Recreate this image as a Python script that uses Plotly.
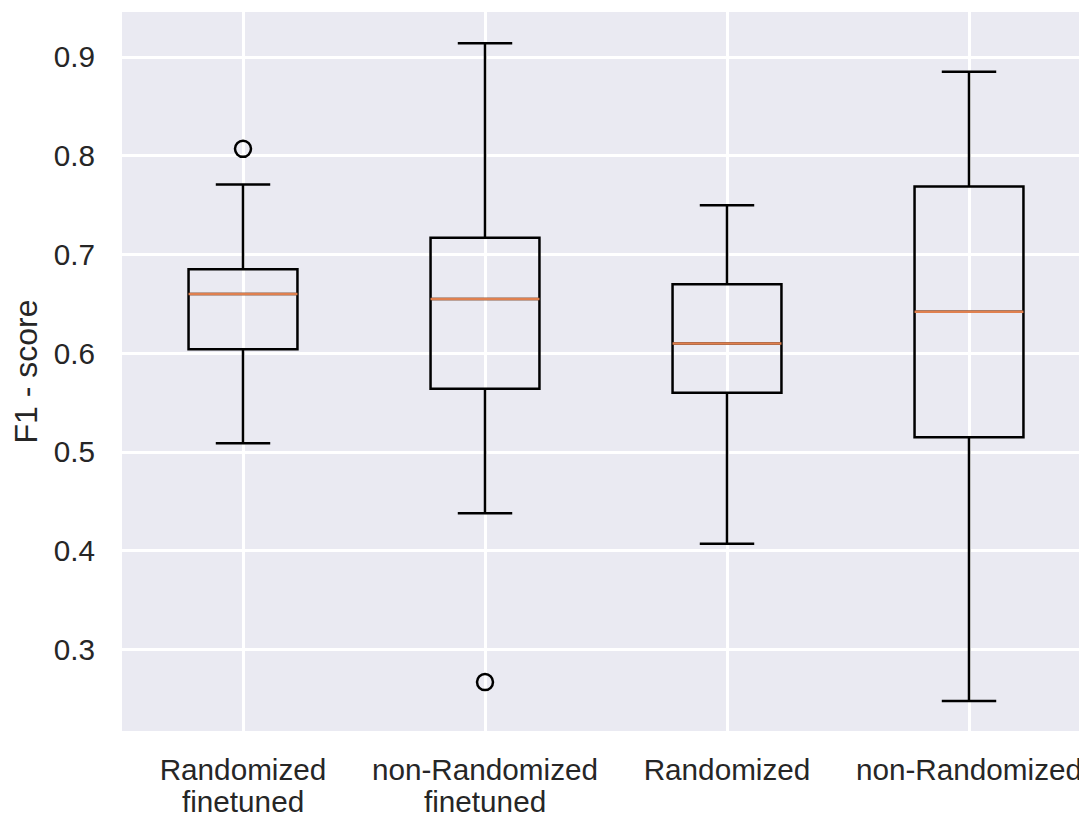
import plotly.graph_objects as go

categories = ["Randomized<br>finetuned", "non-Randomized<br>finetuned", "Randomized", "non-Randomized"]
positions = [1, 2, 3, 4]
lower_whisker = [0.509, 0.438, 0.407, 0.248]
q1 = [0.604, 0.564, 0.560, 0.515]
median = [0.660, 0.655, 0.610, 0.642]
q3 = [0.685, 0.717, 0.670, 0.769]
upper_whisker = [0.771, 0.914, 0.750, 0.885]
outlier_pos = [1, 2]
outlier_val = [0.807, 0.267]

BOX_W = 0.45
TEXT = "#262626"
FONT = "Liberation Sans, Arial, sans-serif"
TSIZE = 29.7

line1 = [c.split("<br>")[0] for c in categories]
line2 = [c.split("<br>")[1] if "<br>" in c else "" for c in categories]

fig = go.Figure()
for i in range(len(positions)):
    fig.add_trace(go.Box(
        x=[positions[i]], q1=[q1[i]], median=[median[i]], q3=[q3[i]],
        lowerfence=[lower_whisker[i]], upperfence=[upper_whisker[i]],
        width=BOX_W, whiskerwidth=0.5, boxpoints=False,
        line=dict(color="black", width=2.5), fillcolor="rgba(0,0,0,0)",
        showlegend=False, hoverinfo="skip",
    ))

mx, my = [], []
for p, m in zip(positions, median):
    mx += [p - BOX_W / 2, p + BOX_W / 2, None]
    my += [m, m, None]
fig.add_trace(go.Scatter(x=mx, y=my, mode="lines",
                         line=dict(color="#E0804F", width=2.5),
                         showlegend=False, hoverinfo="skip"))

fig.add_trace(go.Scatter(x=outlier_pos, y=outlier_val, mode="markers",
                         marker=dict(symbol="circle-open", size=16, color="black",
                                     line=dict(width=2.5, color="black")),
                         showlegend=False, hoverinfo="skip"))

annotations = []
for p, t in zip(positions, line2):
    if t:
        annotations.append(dict(x=p, xref="x", y=0, yref="paper", text=t,
                                showarrow=False, yanchor="middle", yshift=-70,
                                font=dict(size=TSIZE, color=TEXT)))

fig.update_layout(
    width=1079, height=811,
    margin=dict(l=114, r=0, t=4, b=88),
    paper_bgcolor="white", plot_bgcolor="#EAEAF2",
    font=dict(family=FONT, color=TEXT, size=TSIZE),
    annotations=annotations,
    xaxis=dict(range=[0.5, 4.4876], tickmode="array", tickvals=positions,
               ticktext=line1, showgrid=True, gridcolor="white", gridwidth=2.5,
               zeroline=False, showline=False, ticks="outside", ticklen=12,
               automargin=False,
               tickcolor="rgba(0,0,0,0)", tickfont=dict(size=TSIZE, color=TEXT)),
    yaxis=dict(range=[0.2175, 0.9456], tickmode="linear", tick0=0.3, dtick=0.1,
               tickformat=".1f", showgrid=True, gridcolor="white", gridwidth=2.5,
               zeroline=False, showline=False, ticks="outside", ticklen=20,
               automargin=False,
               tickcolor="rgba(0,0,0,0)", tickfont=dict(size=TSIZE, color=TEXT),
               title=dict(text="F1 - score", font=dict(size=32, color=TEXT), standoff=10)),
)

fig.write_html("out.html")
